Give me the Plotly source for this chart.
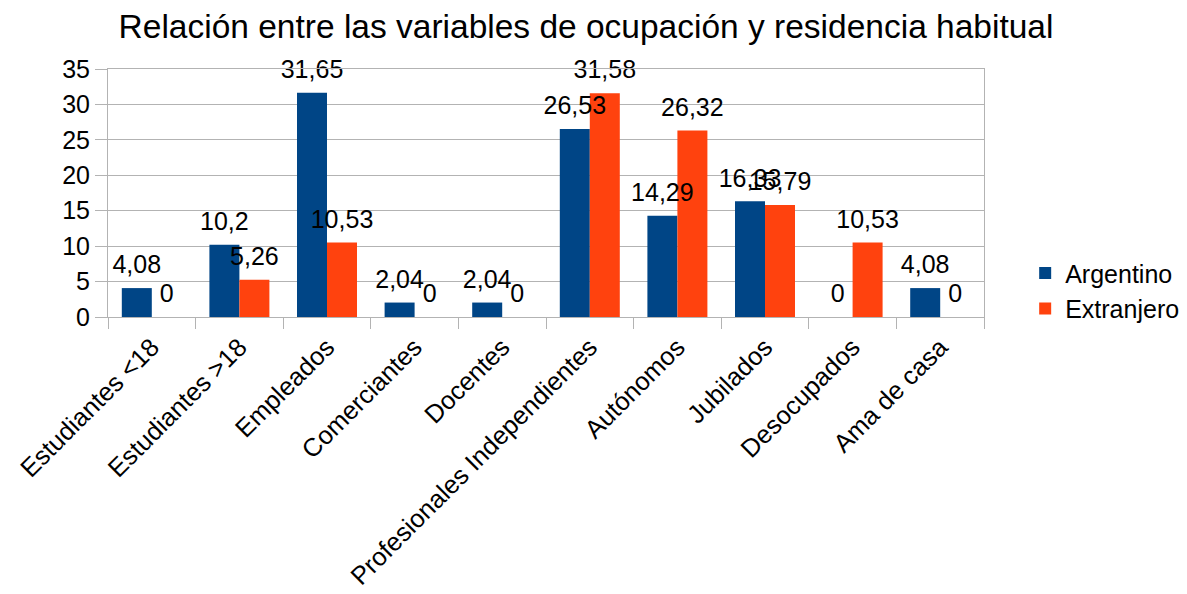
import plotly.graph_objects as go

categories = ["Estudiantes <18", "Estudiantes >18", "Empleados", "Comerciantes", "Docentes",
              "Profesionales Independientes", "Autónomos", "Jubilados", "Desocupados", "Ama de casa"]
argentino = [4.08, 10.2, 31.65, 2.04, 2.04, 26.53, 14.29, 16.33, 0, 4.08]
extranjero = [0, 5.26, 10.53, 0, 0, 31.58, 26.32, 15.79, 10.53, 0]
y_ticks = [0, 5, 10, 15, 20, 25, 30, 35]

def fmt(v):
    return f"{v:g}".replace(".", ",")

FONT = "Liberation Sans, Arial, sans-serif"
W, H = 1179, 586
GAP = 0.315
series = [("Argentino", argentino, "#004586"), ("Extranjero", extranjero, "#ff420e")]
fig = go.Figure()
for name, vals, color in series:
    fig.add_trace(go.Bar(
        x=categories, y=vals, name=name,
        marker=dict(color=color, line=dict(width=0)),
    ))
# value labels, grouped like the bars and drawn on top of them
for name, vals, color in series:
    fig.add_trace(go.Scatter(
        x=categories, y=vals, name=name + " labels", showlegend=False,
        mode="markers+text", marker=dict(size=12, opacity=0, color=color),
        text=[fmt(v) for v in vals], textposition="top center", cliponaxis=False,
        textfont=dict(size=25, color="black", family=FONT), hoverinfo="skip",
    ))

fig.update_layout(
    width=W, height=H,
    margin=dict(l=100, r=203, t=61, b=277, autoexpand=False),
    paper_bgcolor="white", plot_bgcolor="white",
    font=dict(family=FONT, size=25, color="black"),
    barmode="group", bargap=GAP, bargroupgap=0,
    scattermode="group", scattergap=GAP,
    title=dict(text="Relación entre las variables de ocupación y residencia habitual",
               x=578 / W, xref="container", xanchor="center",
               y=1 - 18 / H, yref="container", yanchor="middle",
               font=dict(size=33.5, family=FONT, color="black")),
    legend=dict(x=1.047, xanchor="left", y=0.106, yanchor="middle",
                font=dict(size=25, family=FONT), tracegroupgap=0),
    showlegend=True,
)
fig.update_yaxes(range=[0, 35], tickvals=y_ticks, showgrid=True, gridcolor="#b3b3b3", gridwidth=1,
                 showline=True, linecolor="#b3b3b3", linewidth=1, mirror=True, automargin=False,
                 ticks="outside", ticklen=12, tickcolor="#b3b3b3", zeroline=False,
                 tickfont=dict(size=25, family=FONT, color="black"))
fig.update_xaxes(showline=True, linecolor="#b3b3b3", linewidth=1, mirror=True, automargin=False,
                 ticks="outside", ticklen=11, tickcolor="#b3b3b3", tickson="boundaries",
                 tickangle=-45, ticklabelstandoff=4,
                 tickfont=dict(size=25.5, family=FONT, color="black"))

fig.write_html("out.html")
